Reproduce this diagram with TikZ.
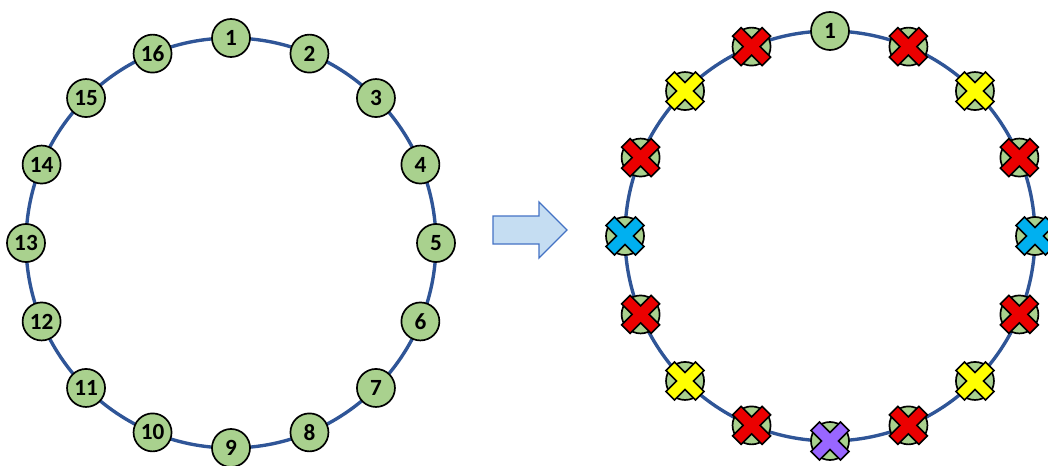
\documentclass[tikz,border=0pt]{standalone}
\usepackage{fontspec}
\setmainfont{Carlito}
\definecolor{ringblue}{RGB}{47,85,151}
\definecolor{nodegreen}{RGB}{169,209,142}
\definecolor{arrowfill}{RGB}{197,221,242}
\definecolor{arrowline}{RGB}{68,114,196}
\definecolor{xred}{RGB}{235,0,0}
\definecolor{xyellow}{RGB}{255,255,0}
\definecolor{xcyan}{RGB}{0,176,240}
\definecolor{xpurple}{RGB}{153,102,255}

\begin{document}
\begin{tikzpicture}[x=0.025cm,y=-0.025cm]
\tikzset{every node/.style={font=\fontsize{16.5}{16.5}\selectfont\bfseries}}
\tikzset{
  station/.style={circle,draw=black,line width=1.2pt,fill=nodegreen,minimum size=0.95cm,inner sep=0pt},
  ring/.style={ringblue,line width=2.4pt},
  pics/xmark/.style={code={
    \fill[#1,draw=black,line width=1.1pt] (0,8.5) -- (10.5,19) -- (19,10.5) -- (8.5,0) -- (19,-10.5) -- (10.5,-19)
      -- (0,-8.5) -- (-10.5,-19) -- (-19,-10.5) -- (-8.5,0) -- (-19,10.5) -- (-10.5,19) -- cycle;}}
}
\clip (0,0) rectangle (1048,466);

% Left ring, 16 stations
\draw[ring] (231,243) circle (205);
\foreach \i in {1,...,16}
  \node[station] (a\i) at ({231+205*sin((\i-1)*22.5)},{243-205*cos((\i-1)*22.5)}) {\i};

% Block arrow
\draw[arrowline,fill=arrowfill,line width=1pt] (493,216) -- (539,216) -- (539,202) -- (567,230)
  -- (539,258) -- (539,244) -- (493,244) -- cycle;

% Right ring, station 1 kept, the others crossed out
\draw[ring] (830,236) circle (205);
\node[station] (b1) at (830,31) {1};
\foreach \i/\c in {2/xred,3/xyellow,4/xred,5/xcyan,6/xred,7/xyellow,8/xred,9/xpurple,
    10/xred,11/xyellow,12/xred,13/xcyan,14/xred,15/xyellow,16/xred} {
  \node[station] (b\i) at ({830+205*sin((\i-1)*22.5)},{236-205*cos((\i-1)*22.5)}) {};
  \pic at (b\i) {xmark=\c};
}

\end{tikzpicture}
\end{document}
